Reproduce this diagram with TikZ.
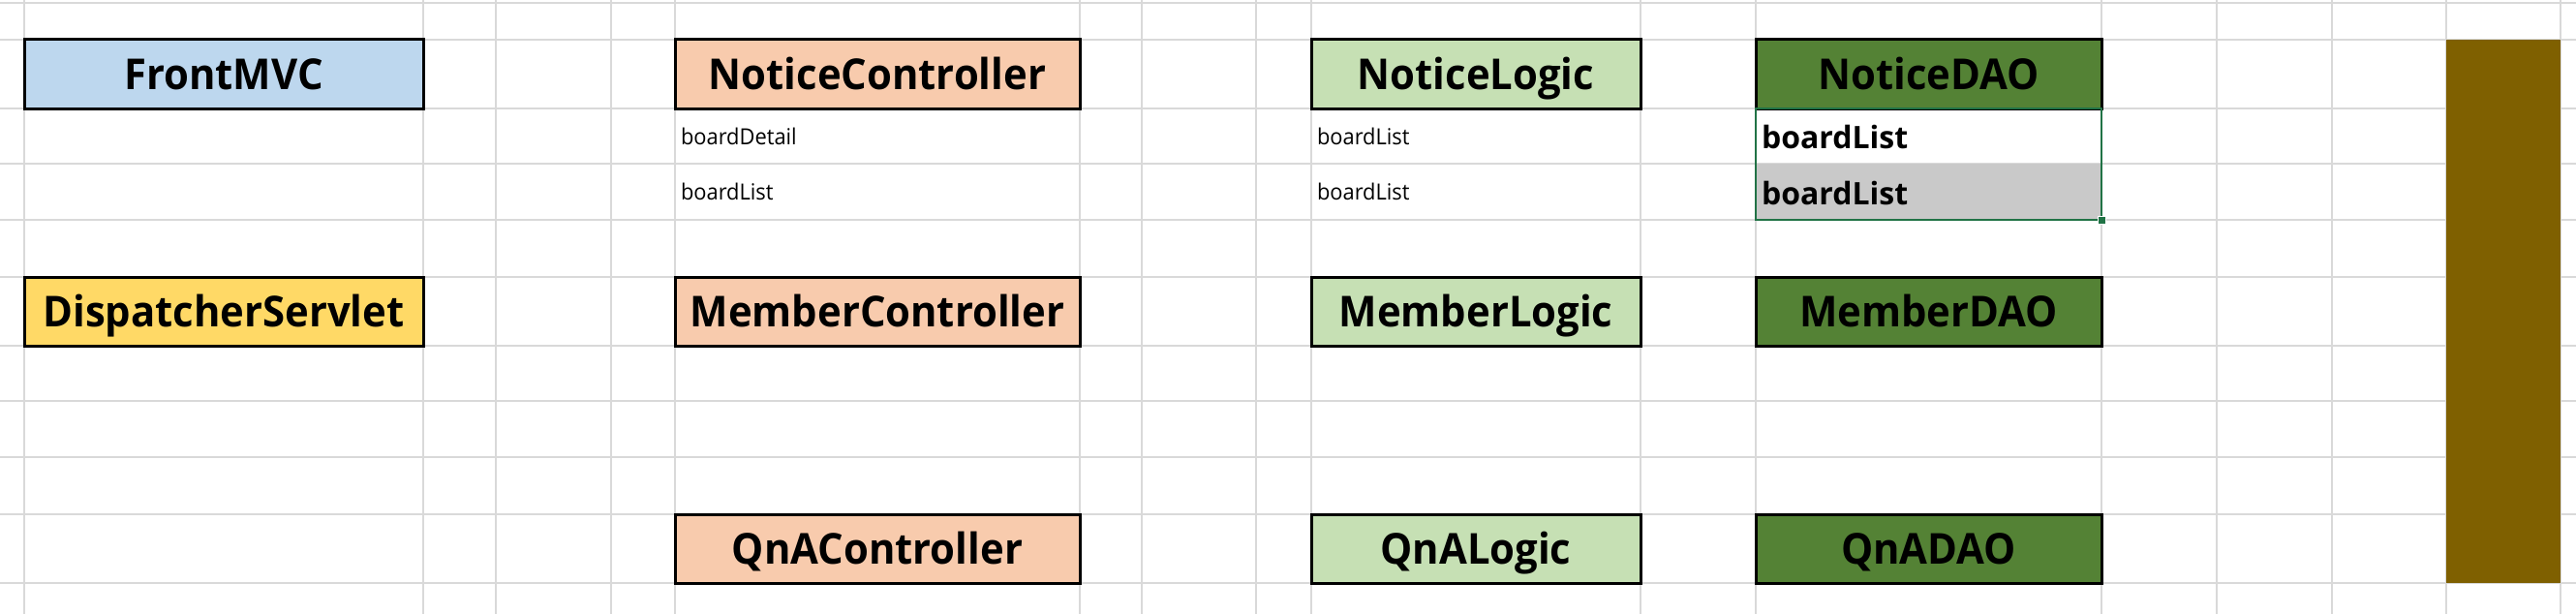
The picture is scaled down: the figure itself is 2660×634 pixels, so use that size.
\documentclass[tikz,border=0pt]{standalone}
\usepackage{fontspec}
\setmainfont{Open Sans}
\newfontfamily\cellfont{Open Sans}[FakeStretch=0.95]
\usetikzlibrary{positioning}

\definecolor{frontblue}{HTML}{BDD7EE}
\definecolor{servletgold}{HTML}{FFD966}
\definecolor{ctrlorange}{HTML}{F8CBAD}
\definecolor{logicgreen}{HTML}{C6E0B4}
\definecolor{daogreen}{HTML}{548235}
\definecolor{barolive}{HTML}{7F6000}
\definecolor{cellgray}{HTML}{C9C9C9}
\definecolor{selgreen}{HTML}{217346}
\definecolor{gridgray}{HTML}{D9D9D9}

\begin{document}
\begin{tikzpicture}[
    x=1pt, y=-1pt,
    node distance=174pt and 260pt,
    gridline/.style={draw=gridgray, line width=1.5pt},
    box/.style={rectangle, draw=black, line width=3pt,
      minimum height=71pt, inner sep=0pt, outer sep=0pt,
      text height=32pt, text depth=0pt,
      font=\cellfont\bfseries\fontsize{44}{44}\selectfont},
    front/.style={box, fill=frontblue, minimum width=412pt},
    servlet/.style={box, fill=servletgold, minimum width=412pt},
    ctrl/.style={box, fill=ctrlorange, minimum width=418pt},
    logic/.style={box, fill=logicgreen, minimum width=340pt},
    dao/.style={box, fill=daogreen, minimum width=357pt},
    cell/.style={rectangle, anchor=north west, inner xsep=6pt, inner ysep=0pt,
      outer sep=0pt, minimum height=57pt, text height=17pt, text depth=0pt,
      font=\cellfont\fontsize{23}{23}\selectfont},
    daocell/.style={cell, text width=345pt, text height=26pt,
      font=\bfseries\fontsize{32}{32}\selectfont},
    selbox/.style={draw=selgreen, line width=2pt},
    handle/.style={rectangle, fill=selgreen, draw=white, line width=1pt,
      minimum size=8pt, inner sep=0pt},
  ]
    \useasboundingbox[fill=white] (0,0) rectangle (2660,634);

    % sheet grid
    \foreach \gy in {3,41,112,169,227,286,357,414,472,531,602}
      \draw[gridline] (0,\gy) -- (2660,\gy);
    \foreach \gx in {25,437,512,631,697,1115,1179,1297,1354,1694,1813,2170,2289,2408,2526,2644}
      \draw[gridline] (\gx,0) -- (\gx,634);

    % Front layer
    \node[front] (front) at (231,76.5) {FrontMVC};
    \node[servlet, below=of front] (dispatcher) {DispatcherServlet};

    % Controllers
    \node[ctrl, right=of front] (noticeCtrl) {NoticeController};
    \node[ctrl, below=of noticeCtrl] (memberCtrl) {MemberController};
    \node[ctrl, below=of memberCtrl] (qnaCtrl) {QnAController};

    % Logic
    \node[logic, right=239pt of noticeCtrl] (noticeLogic) {NoticeLogic};
    \node[logic, below=of noticeLogic] (memberLogic) {MemberLogic};
    \node[logic, below=of memberLogic] (qnaLogic) {QnALogic};

    % DAO
    \node[dao, right=119pt of noticeLogic] (noticeDao) {NoticeDAO};
    \node[dao, below=of noticeDao] (memberDao) {MemberDAO};
    \node[dao, below=of memberDao] (qnaDao) {QnADAO};

    % method cells
    \node[cell] (ncDetail) at (noticeCtrl.south west) {boardDetail};
    \node[cell] (ncList) at (ncDetail.south west) {boardList};
    \node[cell] (nlList) at (noticeLogic.south west) {boardList};
    \node[cell] (nlList2) at (nlList.south west) {boardList};
    \node[daocell] (ndList) at (noticeDao.south west) {boardList};
    \node[daocell, fill=cellgray, minimum height=58pt] (ndList2) at (ndList.south west) {boardList};

    % selection
    \draw[selbox] (ndList.north west) rectangle (ndList2.south east);
    \node[handle] (grip) at (ndList2.south east) {};

    % right bar
    \node[rectangle, fill=barolive, minimum width=118pt, minimum height=561pt,
      inner sep=0pt, outer sep=0pt] (bar) at (2585,321.5) {};
  \end{tikzpicture}
\end{document}
